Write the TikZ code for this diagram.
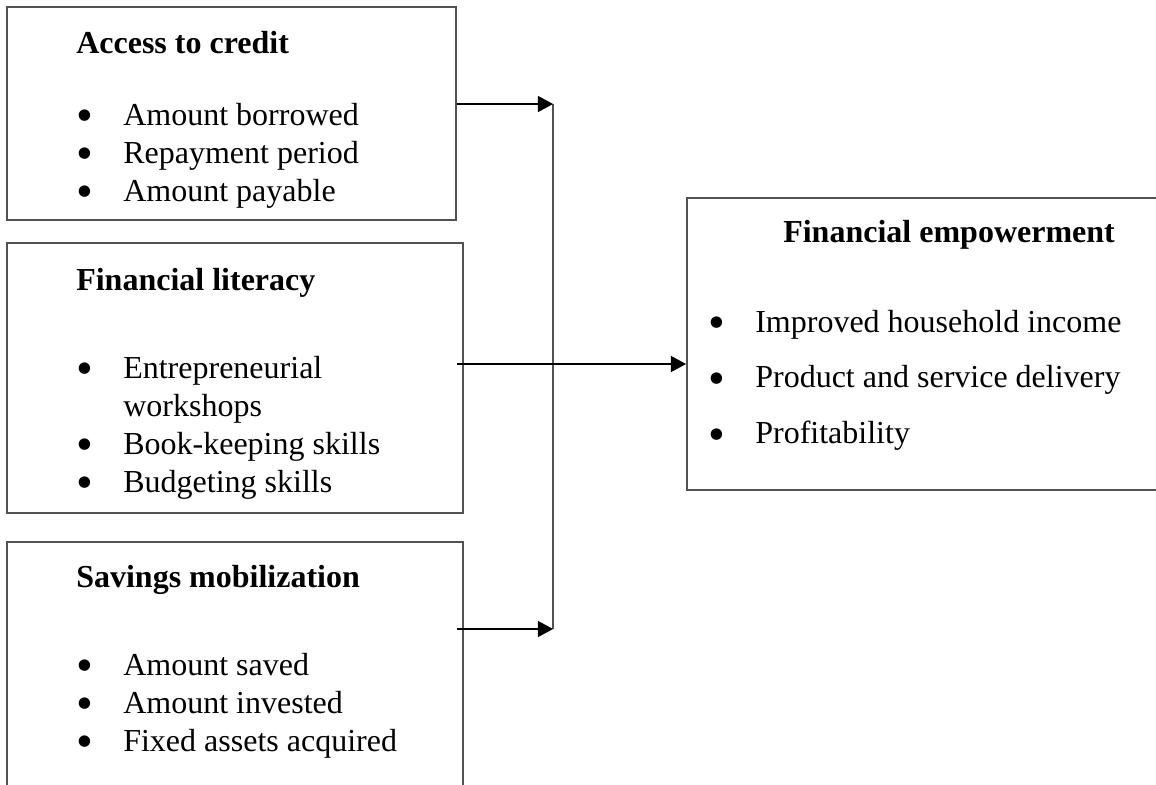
\documentclass[tikz,border=0pt]{standalone}
\usepackage{fontspec}
\setmainfont{Liberation Serif}
\usetikzlibrary{arrows.meta,fit}

\newcommand\itm{\makebox[1.175cm][l]{\raisebox{-0.2em}{\scalebox{1.5}{\textbullet}}}}

\begin{document}
\begin{tikzpicture}[
	x=0.025cm, y=-0.025cm,
	boxnode/.style={rectangle, draw=black!68, line width=1.4pt, inner sep=0pt},
	headnode/.style={anchor=base west, inner sep=0pt, font=\fontsize{22.76}{27.03}\selectfont\bfseries},
	listnode/.style={anchor=base west, inner sep=0pt, font=\fontsize{22.76}{27.03}\selectfont},
	listwide/.style={anchor=base west, inner sep=0pt, font=\fontsize{22.76}{39.8}\selectfont},
	joinline/.style={draw=black!68, line width=1.4pt},
	arrowline/.style={-{Triangle[length=10.7pt,width=11.4pt]}, line width=0.9pt},
	]
	\useasboundingbox (0,0) rectangle (1156,784);
	\clip (0,0) rectangle (1156,784);

	%Boxes
	\node[boxnode, fit={(7,7) (456,220)}] (credit) {};
	\node[boxnode, fit={(7,243) (463,513)}] (literacy) {};
	\node[boxnode, fit={(7,542) (463,830)}] (savings) {};
	\node[boxnode, fit={(687,198) (1200,490)}] (empower) {};

	%Texts
	\node[headnode] (credithead) at (76,53) {Access to credit};
	\node[listnode] (creditlist) at (76,125) {\begin{tabular}[t]{@{}l@{}}
		\itm Amount borrowed\\
		\itm Repayment period\\
		\itm Amount payable
	\end{tabular}};

	\node[headnode] (literacyhead) at (76,290) {Financial literacy};
	\node[listnode] (literacylist) at (76,378) {\begin{tabular}[t]{@{}l@{}}
		\itm Entrepreneurial\\
		\hspace*{1.175cm}workshops\\
		\itm Book-keeping skills\\
		\itm Budgeting skills
	\end{tabular}};

	\node[headnode] (savingshead) at (76,587) {Savings mobilization};
	\node[listnode] (savingslist) at (76,675) {\begin{tabular}[t]{@{}l@{}}
		\itm Amount saved\\
		\itm Amount invested\\
		\itm Fixed assets acquired
	\end{tabular}};

	\node[headnode] (empowerhead) at (783,242) {Financial empowerment};
	\node[listwide] (empowerlist) at (708,332) {\begin{tabular}[t]{@{}l@{}}
		\itm Improved household income\\
		\itm Product and service delivery\\
		\itm Profitability
	\end{tabular}};

	%Lines
	\coordinate (join1) at (553,104);
	\coordinate (join3) at (553,629);
	\coordinate (literacyout) at (457,364);
	\coordinate (savingsout) at (457,629);

	\draw[joinline] (join1) -- (join3);
	\draw[arrowline] (credit.east |- join1) -- (join1);
	\draw[arrowline] (savingsout) -- (join3);
	\draw[arrowline] (literacyout) -- (empower.west |- literacyout);

\end{tikzpicture}
\end{document}
